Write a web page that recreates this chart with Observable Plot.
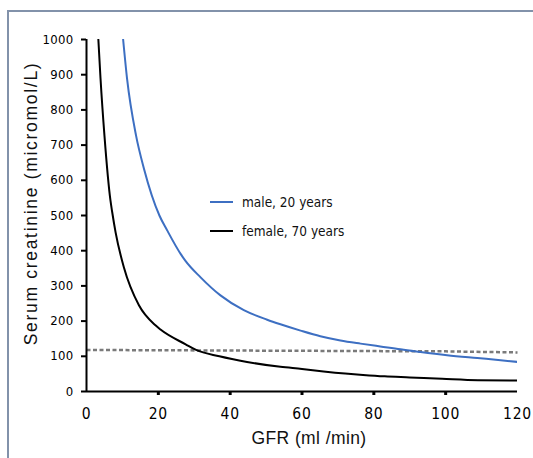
<!DOCTYPE html>
<html><head><meta charset="utf-8">
<script src="https://cdn.jsdelivr.net/npm/d3@7"></script>
<script src="https://cdn.jsdelivr.net/npm/@observablehq/plot@0.6"></script>
<style>
html,body{margin:0;padding:0;background:#fff;}
#wrap{position:relative;width:533px;height:458px;overflow:hidden;background:#fff;}
#frame{position:absolute;left:7px;top:10px;width:700px;height:700px;border-left:2px solid #8292aa;border-top:2px solid #8292aa;box-sizing:border-box;}
#chart{position:absolute;left:0;top:0;}
.crea g[aria-label="y-axis tick label"]{font-family:"DejaVu Sans Condensed","DejaVu Sans",sans-serif;font-stretch:condensed;font-size:13px;letter-spacing:0.3px;fill:#000;}
.crea g[aria-label="x-axis tick label"]{font-family:"DejaVu Sans Condensed","DejaVu Sans",sans-serif;font-stretch:condensed;font-size:15.5px;letter-spacing:0.8px;fill:#000;}
.crea text[aria-label="xtitle"]{font-family:"Liberation Sans",Arial,sans-serif;font-size:17.5px;letter-spacing:0.4px;fill:#111;}
.crea text[aria-label="ytitle"]{font-family:"Liberation Sans",Arial,sans-serif;font-size:17.5px;letter-spacing:1.7px;fill:#111;}
#legend{position:absolute;left:210px;top:192px;font-family:"DejaVu Sans Condensed","DejaVu Sans",sans-serif;font-stretch:condensed;font-size:13.5px;color:#111;}
.row{display:flex;align-items:center;height:20px;margin-bottom:9px;}
.sw{width:23px;height:2px;margin-right:9px;}
</style>
</head><body>
<div id="wrap"><div id="frame"></div><div id="chart"></div>
<div id="legend"></div></div>
<script>
// Data
const gfrMale = [10.2, 11.3, 13.8, 16.0, 20.3, 22.5, 26.2, 27.5, 31.7, 37.3, 43.8, 50.3, 54, 59.6, 65.1, 70.7, 76.3, 81.8, 87.4, 89.3, 93, 100.4, 108.8, 115.3, 120];
const creaMale = [1000, 888, 727, 633, 500, 457, 391, 372, 325, 273, 231, 204, 191, 173, 157, 145, 136, 128, 120, 117, 112, 103, 95, 89, 84];
const gfrFemale = [3.3, 3.9, 5.0, 6.68, 7.15, 8.1, 10.4, 14.6, 19.2, 20.6, 27.6, 30.5, 37, 44.7, 54, 60, 66, 72, 77, 83, 90, 99, 109, 120];
const creaFemale = [1000, 890, 727, 542, 510, 452, 353, 245, 188, 176, 134, 118, 100, 84, 70, 64, 57, 51, 47, 43, 40, 36, 32, 31];
const gfrRef = [0, 50, 100, 120];
const creaRef = [118, 116, 114, 111];
const seriesNames = ["male, 20 years", "female, 70 years"];
const seriesColors = ["#3d6fc2", "#000000"];
const xTicks = [0, 20, 40, 60, 80, 100, 120];
const xTickMarks = [20, 40, 60, 80, 100];
const yTicks = [0, 100, 200, 300, 400, 500, 600, 700, 800, 900, 1000];
const xTitle = "GFR (ml /min)";
const yTitle = "Serum creatinine (micromol/L)";

const male = gfrMale.map((g, i) => ({gfr: g, crea: creaMale[i]}));
const female = gfrFemale.map((g, i) => ({gfr: g, crea: creaFemale[i]}));
const ref = gfrRef.map((g, i) => ({gfr: g, crea: creaRef[i]}));

const chart = Plot.plot({
  width: 533, height: 458,
  marginLeft: 86, marginRight: 16, marginTop: 39, marginBottom: 67,
  className: "crea",
  style: {background: "transparent"},
  x: {domain: [0, 120]},
  y: {domain: [0, 1000]},
  marks: [
    Plot.axisY({ticks: yTicks, tickSize: 5, tickPadding: 8, strokeWidth: 2, tickFormat: d => String(d), label: null}),
    Plot.axisX({ticks: xTickMarks, tickSize: 4, strokeWidth: 3, tickFormat: () => "", label: null}),
    Plot.axisX({ticks: xTicks, tickSize: 0, tickPadding: 16, tickFormat: d => String(d), label: null}),
    Plot.text([xTitle], {frameAnchor: "bottom", lineAnchor: "middle", textAnchor: "middle", dy: 47, dx: 7, fontSize: 17.5, fontFamily: "Liberation Sans, Arial, sans-serif", ariaLabel: () => "xtitle"}),
    Plot.text([yTitle], {frameAnchor: "left", lineAnchor: "middle", textAnchor: "middle", rotate: -90, dx: -55, dy: -12, fontSize: 17.5, fontFamily: "Liberation Sans, Arial, sans-serif", ariaLabel: () => "ytitle"}),
    Plot.line(ref, {x: "gfr", y: "crea", stroke: "#7a7a7a", strokeWidth: 2.5, strokeDasharray: "4,2.5", strokeLinecap: "butt"}),
    Plot.line(male, {x: "gfr", y: "crea", stroke: seriesColors[0], strokeWidth: 2, curve: "monotone-x", clip: true}),
    Plot.line(female, {x: "gfr", y: "crea", stroke: seriesColors[1], strokeWidth: 2, curve: "monotone-x", clip: true}),
    Plot.ruleX([0], {stroke: "#000", strokeWidth: 2}),
    Plot.ruleY([0], {stroke: "#000", strokeWidth: 2})
  ]
});
document.getElementById("chart").appendChild(chart);

const legend = document.getElementById("legend");
seriesNames.forEach((n, i) => {
  const row = document.createElement("div");
  row.className = "row";
  const sw = document.createElement("div");
  sw.className = "sw";
  sw.style.background = seriesColors[i];
  const t = document.createElement("span");
  t.textContent = n;
  row.appendChild(sw); row.appendChild(t);
  legend.appendChild(row);
});
</script>
</body></html>
